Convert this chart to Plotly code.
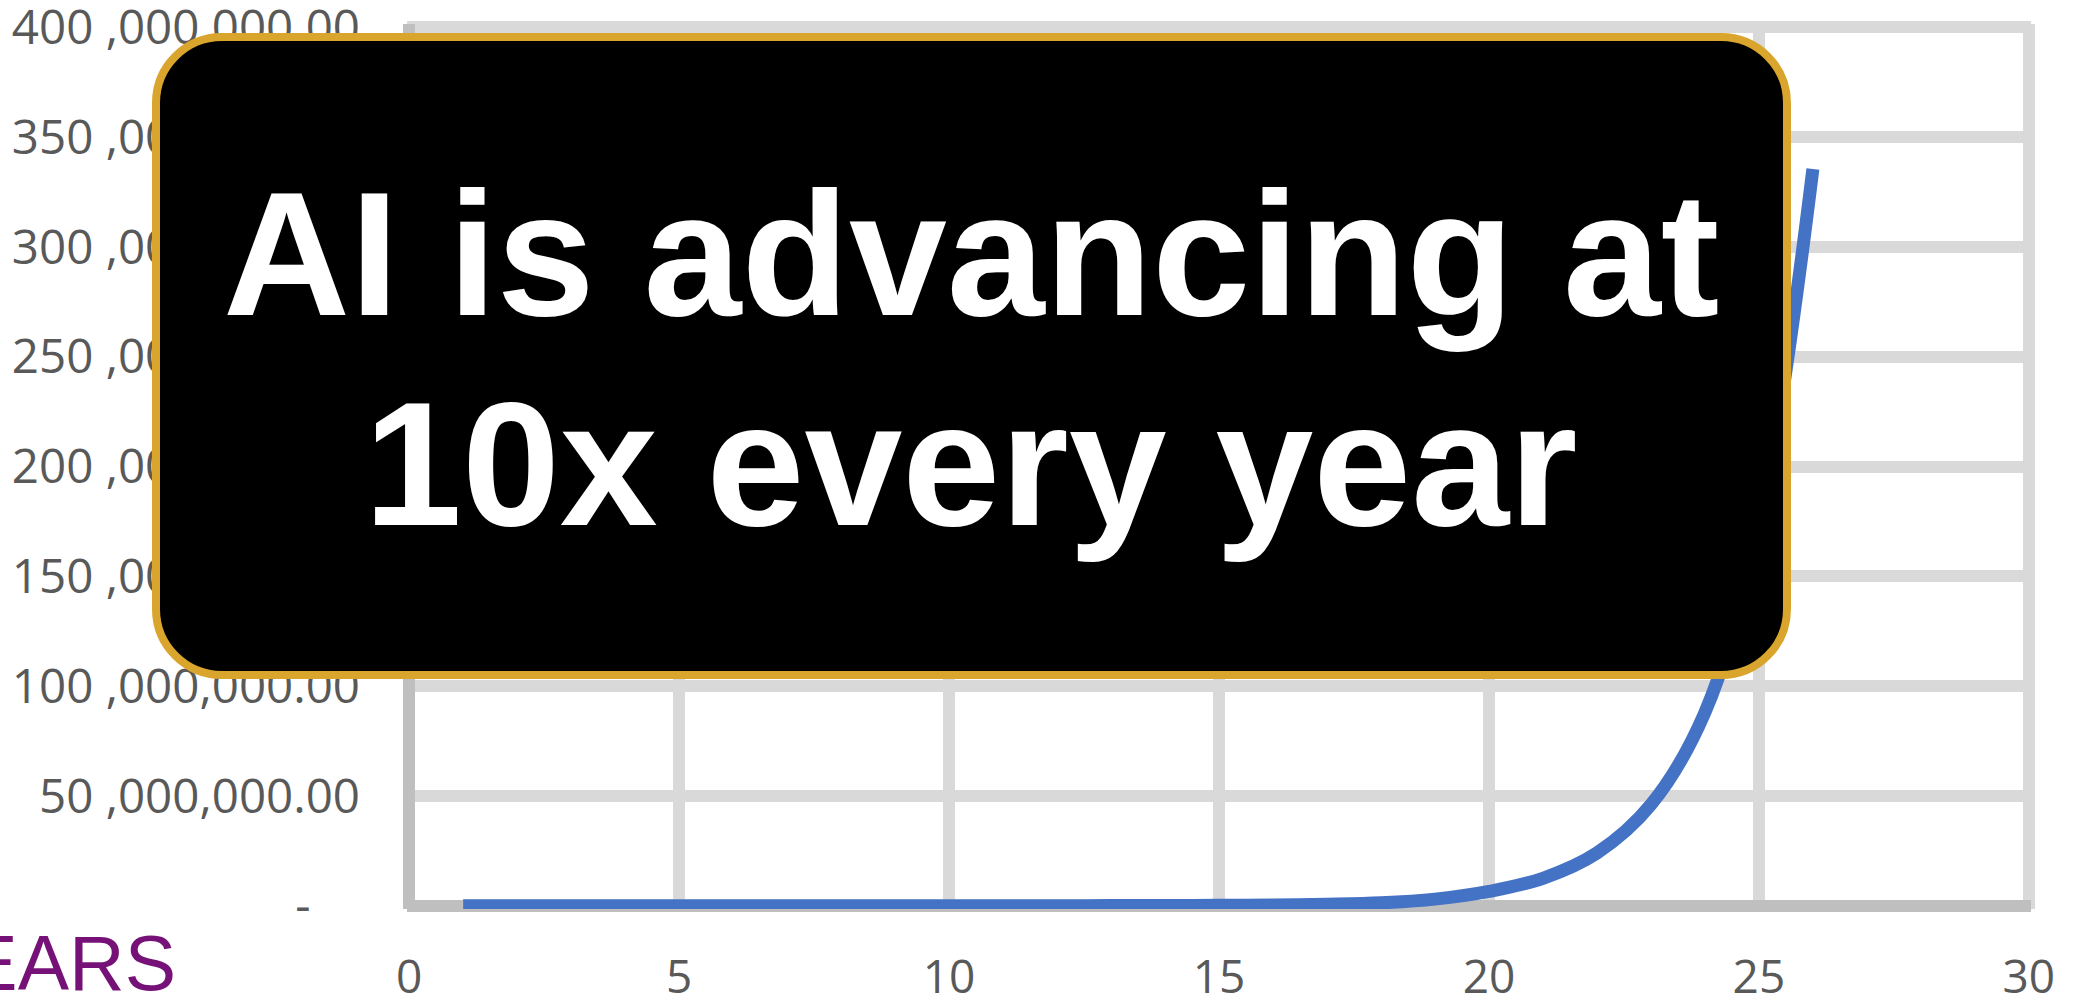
import plotly.graph_objects as go

# ---------------- data ----------------
YEARS = [1, 2, 3, 4, 5, 6, 7, 8, 9, 10, 11, 12, 13, 14, 15, 16, 17, 18, 19, 20,
         21, 22, 23, 24, 25, 26]
VALUES = [8, 16, 32, 64, 128, 256, 512, 1024, 2048, 4096, 8192, 16384, 40000,
          80000, 160000, 330000, 650000, 1300000, 3000000, 6500000, 12500000,
          24000000, 46000000, 88000000, 172000000, 335500000]

X_TICK_VALUES = [0, 5, 10, 15, 20, 25, 30]
X_TICK_LABELS = ["0", "5", "10", "15", "20", "25", "30"]
Y_TICK_VALUES = [0, 50e6, 100e6, 150e6, 200e6, 250e6, 300e6, 350e6, 400e6]
Y_TICK_LABELS = ["-\u00a0\u00a0\u00a0\u00a0", "50 ,000,000.00", "100 ,000,000.00",
                 "150 ,000,000.00", "200 ,000,000.00", "250 ,000,000.00",
                 "300 ,000,000.00", "350 ,000,000.00", "400 ,000,000.00"]

TITLE_LINES = ["AI is advancing at", "10x every year"]
AXIS_TITLE = "YEARS"

# ---------------- layout geometry ----------------
FIG_W, FIG_H = 2088, 995
M_L, M_R, M_T, M_B = 407, 57, 24, 86
PLOT_W = FIG_W - M_L - M_R
PLOT_H = FIG_H - M_T - M_B


def px_x(px):
    return (px - M_L) / PLOT_W


def px_y(py):
    return (FIG_H - M_B - py) / PLOT_H


def rounded_rect(x1, y1, x2, y2, r):
    k = 0.5523 * r
    X = px_x
    Y = px_y
    pts = [
        f"M {X(x1 + r)},{Y(y1)}",
        f"L {X(x2 - r)},{Y(y1)}",
        f"C {X(x2 - r + k)},{Y(y1)} {X(x2)},{Y(y1 + r - k)} {X(x2)},{Y(y1 + r)}",
        f"L {X(x2)},{Y(y2 - r)}",
        f"C {X(x2)},{Y(y2 - r + k)} {X(x2 - r + k)},{Y(y2)} {X(x2 - r)},{Y(y2)}",
        f"L {X(x1 + r)},{Y(y2)}",
        f"C {X(x1 + r - k)},{Y(y2)} {X(x1)},{Y(y2 - r + k)} {X(x1)},{Y(y2 - r)}",
        f"L {X(x1)},{Y(y1 + r)}",
        f"C {X(x1)},{Y(y1 + r - k)} {X(x1 + r - k)},{Y(y1)} {X(x1 + r)},{Y(y1)}",
        "Z",
    ]
    return " ".join(pts)


GRID = "#D9D9D9"
AXIS = "#BFBFBF"
TICK_FONT = dict(family="Open Sans, Noto Sans, sans-serif", size=47.5, color="#595959")

fig = go.Figure()
fig.add_trace(go.Scatter(
    x=YEARS, y=VALUES, mode="lines",
    line=dict(color="#4472C4", width=13, shape="spline", smoothing=1.0),
    hoverinfo="skip", showlegend=False,
))

fig.update_layout(
    width=FIG_W, height=FIG_H,
    margin=dict(l=M_L, r=M_R, t=M_T, b=M_B, pad=0, autoexpand=False),
    paper_bgcolor="white", plot_bgcolor="white",
    showlegend=False,
    xaxis=dict(
        range=[-0.04, 30.04], tickmode="array",
        tickvals=X_TICK_VALUES, ticktext=X_TICK_LABELS,
        showgrid=True, gridcolor=GRID, gridwidth=12,
        zeroline=True, zerolinecolor=AXIS, zerolinewidth=12,
        showline=False, ticks="", tickfont=dict(TICK_FONT, size=46),
        ticklabelstandoff=37, ticklabeloverflow="allow", fixedrange=True,
    ),
    yaxis=dict(
        range=[-1.5e6, 401.5e6], tickmode="array",
        tickvals=Y_TICK_VALUES, ticktext=Y_TICK_LABELS,
        showgrid=True, gridcolor=GRID, gridwidth=12,
        zeroline=True, zerolinecolor=AXIS, zerolinewidth=12,
        showline=False, ticks="", tickfont=TICK_FONT,
        ticklabelstandoff=46, ticklabeloverflow="allow", fixedrange=True,
    ),
    shapes=[dict(
        type="path", xref="paper", yref="paper",
        path=rounded_rect(156, 37, 1787, 675, 66),
        fillcolor="black", line=dict(color="#D9A52C", width=8),
        layer="above",
    )],
)

title_font = dict(family="Liberation Sans, Arial, sans-serif", size=176,
                  color="white", weight="bold")
for line, mid in zip(TITLE_LINES, [254, 464]):
    fig.add_annotation(
        text=line, xref="paper", yref="paper",
        x=px_x(971), y=px_y(mid), xanchor="center", yanchor="middle",
        showarrow=False, font=title_font, borderpad=0, borderwidth=0,
    )

fig.add_annotation(
    text=AXIS_TITLE, xref="paper", yref="paper",
    x=px_x(176), y=px_y(963), xanchor="right", yanchor="middle",
    showarrow=False, borderpad=0, borderwidth=0,
    font=dict(family="Liberation Sans, Arial, sans-serif", size=77, color="#751177"),
)

fig.write_html(
    "out.html",
    config={"displayModeBar": False, "staticPlot": True},
    post_script="document.body.style.margin='0';document.body.style.overflow='hidden';",
)
